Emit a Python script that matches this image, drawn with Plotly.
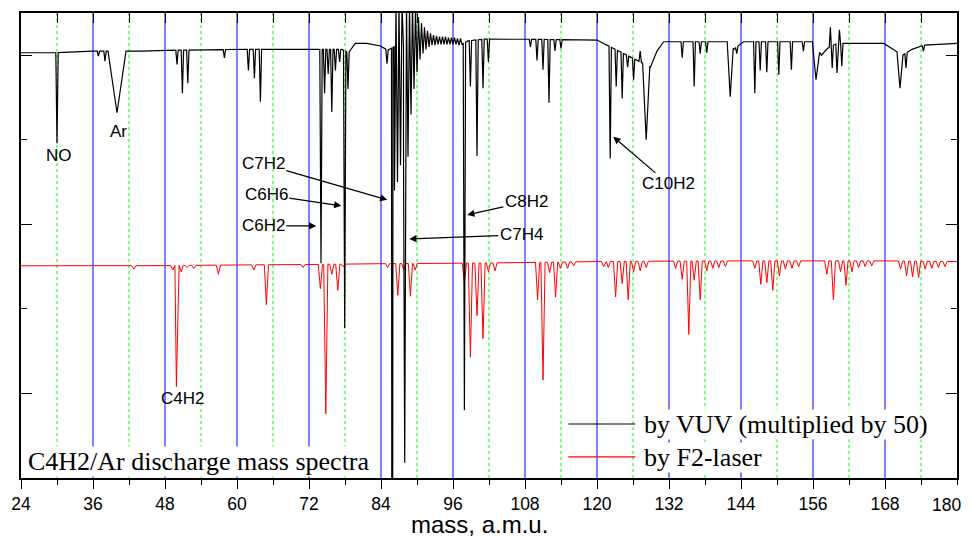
import numpy as np
import plotly.graph_objects as go

# ---- VUV spectrum (multiplied by 50), black trace ----
vuv_base_mass = [24, 30, 36, 44, 50, 60, 72, 77.5, 78.6, 79.7, 81.6, 83.9, 85.1, 86.2,
                 97.5, 98.5, 101, 108, 120, 128.9, 130, 131.1, 142, 142.8, 144.4, 156,
                 157.4, 158.4, 160, 167.8, 170.9, 172.5, 174.5, 180]
vuv_base_value = [5.03, 5.03, 5.05, 5.05, 5.06, 5.07, 5.07, 5.07, 5.03, 5.14, 5.14, 5.11, 5.06, 5.1,
                  5.13, 5.17, 5.19, 5.19, 5.18, 4.86, 5.05, 5.16, 5.16, 5.07, 5.16, 5.16,
                  5.0, 5.08, 5.14, 5.14, 5.0, 5.07, 5.12, 5.14]

vuv_peak_mass = [30.0, 36.9, 38.0, 50.0, 50.9, 51.8, 57.9, 61.9, 62.9, 63.9,
                 74.0, 74.6, 75.2, 75.8, 76.4, 77.1, 77.95, 78.5, 85.0, 85.8, 85.95, 87.95,
                 97.9, 98.9, 100.0, 101.0, 101.9, 108.9, 110.0, 111.0, 112.0, 113.0, 114.0,
                 122.2, 123.2, 124.2, 125.1, 126.1, 127.2, 134.2, 136.2, 137.2, 138.3, 143.3,
                 146.3, 147.2, 148.3, 150.3, 152.4, 154.4, 158.9, 159.2, 160.0, 160.4, 160.8,
                 171.5, 174.4]
vuv_peak_value = [3.96, 4.99, 4.93, 4.89, 4.55, 4.67, 4.97, 4.82, 4.73, 4.45,
                  2.54, 4.55, 4.78, 4.33, 4.82, 4.92, 1.77, 4.6, 4.9, -0.3, -0.3, 0.18,
                  0.80, 4.63, 3.81, 4.61, 4.92, 5.1, 4.94, 4.83, 4.44, 5.05, 5.08,
                  3.78, 4.63, 4.49, 4.86, 4.71, 5.05, 4.97, 4.63, 5.02, 5.03, 5.02,
                  4.55, 4.82, 4.8, 4.77, 4.83, 5.05, 5.33, 4.85, 4.79, 5.3, 4.87,
                  4.85, 5.05]

vuv_broad_mass = [40.0, 128.2, 142.2, 156.5, 170.5]
vuv_broad_value = [4.32, 4.0, 4.51, 4.71, 4.61]
vuv_broad_width = [1.5, 0.6, 0.5, 0.6, 0.5]

# ringing after the big C7H2 / C7H4 lines
vuv_ring_mass = [86.25, 86.5, 86.75, 87.0, 87.25, 87.5, 87.75,
                 88.25, 88.5, 88.75, 89.0, 89.25, 89.5, 89.75, 90.0, 90.25, 90.5, 90.75,
                 91.0, 91.25, 91.5, 91.75, 92.0, 92.25, 92.5, 92.75, 93.0, 93.25, 93.5,
                 93.75, 94.0, 94.25, 94.5, 94.75, 95.0, 95.25, 95.5, 95.75, 96.0, 96.25,
                 96.5, 96.75, 97.0, 97.25]
vuv_ring_value = [3.4, 5.6, 3.5, 5.6, 3.7, 5.6, 3.9,
                  5.6, 3.8, 5.6, 4.3, 5.6, 4.6, 5.55, 4.8, 5.45, 4.95, 5.38,
                  5.02, 5.33, 5.07, 5.29, 5.1, 5.26, 5.12, 5.24, 5.12, 5.23, 5.13,
                  5.22, 5.13, 5.22, 5.13, 5.22, 5.13, 5.21, 5.13, 5.21, 5.13, 5.21,
                  5.13, 5.2, 5.12, 5.2]

# ---- F2-laser spectrum, red trace ----
f2_base_mass = [24, 48, 60, 72, 84, 96, 108, 120, 132, 144, 156, 168, 180]
f2_base_value = [2.51, 2.512, 2.52, 2.525, 2.535, 2.54, 2.548, 2.56, 2.565, 2.568, 2.568, 2.568, 2.56]

f2_peak_mass = [42.8, 49.3, 49.9, 50.7, 51.7, 52.8, 56.9, 62.8, 64.9, 71.0,
                73.9, 74.8, 75.8, 76.8, 77.7, 85.1, 86.8, 87.8, 88.9, 89.7,
                97.9, 98.9, 100.0, 101.0, 101.9, 103.0, 110.1, 111.0, 112.1, 113.1,
                113.9, 115.1, 116.1, 121.1, 121.9, 123.1, 124.2, 125.2, 126.1, 127.2,
                128.2, 133.1, 134.2, 135.3, 136.2, 137.2, 138.3, 139.3, 140.3, 141.4,
                146.3, 147.3, 148.3, 149.3, 150.4, 151.4, 152.5, 153.6, 158.3, 159.4,
                160.6, 161.5, 162.5, 163.6, 164.7, 165.8, 170.6, 171.6, 172.6, 173.6,
                174.7, 175.8, 176.9, 178.0]
f2_peak_value = [2.47, 2.46, 1.08, 2.44, 2.49, 2.48, 2.41, 2.46, 2.05, 2.49,
                 2.24, 0.76, 2.41, 2.22, 2.5, 2.49, 2.16, 2.46, 2.15, 2.46,
                 2.32, 1.43, 1.92, 1.65, 2.44, 2.45, 2.11, 1.16, 2.43, 2.14,
                 2.48, 2.48, 2.51, 2.5, 2.49, 2.14, 2.30, 2.11, 2.44, 2.45,
                 2.49, 2.48, 2.35, 1.70, 2.34, 2.11, 2.45, 2.48, 2.49, 2.5,
                 2.48, 2.29, 2.31, 2.22, 2.39, 2.47, 2.48, 2.5, 2.41, 2.11,
                 2.44, 2.28, 2.44, 2.49, 2.5, 2.51, 2.47, 2.39, 2.38, 2.37,
                 2.47, 2.48, 2.49, 2.5]

# ---- labels ----
x_tick_mass = [24, 36, 48, 60, 72, 84, 96, 108, 120, 132, 144, 156, 168, 180]

label_text = ["NO", "Ar", "C4H2"]
label_mass = [30.38, 40.22, 50.88]
label_value = [3.82, 4.095, 0.935]

arrow_text = ["C7H2", "C6H6", "C6H2", "C8H2", "C7H4", "C10H2"]
arrow_text_mass = [64.38, 64.88, 64.38, 108.22, 107.38, 131.88]
arrow_text_value = [3.716, 3.349, 2.982, 3.266, 2.876, 3.479]
arrow_head_mass = [85.05, 77.38, 73.22, 98.38, 88.72, 122.72]
arrow_head_value = [3.29, 3.219, 2.982, 3.112, 2.828, 4.036]

legend_text = ["by VUV (multiplied by 50)", "by F2-laser"]
legend_color = ["black", "#ff0000"]


def spectrum(base_m, base_v, peak_m, peak_v, peak_w, extra_m=(), extra_v=()):
    spans = [(m - w, m + w) for m, w in zip(peak_m, peak_w)]
    if len(extra_m):
        spans.append((extra_m[0], extra_m[-1]))
    pts = [(m, v) for m, v in zip(base_m, base_v)
           if not any(a < m < b for a, b in spans)]
    for m, v, w in zip(peak_m, peak_v, peak_w):
        for s in (m - w, m + w):
            pts.append((s, float(np.interp(s, base_m, base_v))))
        pts.append((m, v))
    pts += list(zip(extra_m, extra_v))
    pts.sort(key=lambda p: p[0])
    return [p[0] for p in pts], [p[1] for p in pts]


vx, vy = spectrum(vuv_base_mass, vuv_base_value,
                  vuv_peak_mass + vuv_broad_mass, vuv_peak_value + vuv_broad_value,
                  [0.2] * len(vuv_peak_mass) + vuv_broad_width,
                  vuv_ring_mass, vuv_ring_value)
fx, fy = spectrum(f2_base_mass, f2_base_value, f2_peak_mass, f2_peak_value,
                  [0.35] * len(f2_peak_mass))

fig = go.Figure()

# grid: blue solid every 12, green dotted in between
for m in range(36, 180, 12):
    fig.add_shape(type="line", x0=m, x1=m, y0=0, y1=1, xref="x", yref="paper", layer="below",
                  line=dict(color="#0000ff", width=1))
for m in range(30, 180, 12):
    fig.add_shape(type="line", x0=m, x1=m, y0=0, y1=1, xref="x", yref="paper", layer="below",
                  line=dict(color="#00ff00", width=1, dash="dot"))

fig.add_trace(go.Scatter(x=fx, y=fy, mode="lines", line=dict(color="#ff0000", width=1),
                         showlegend=False, hoverinfo="skip"))
fig.add_trace(go.Scatter(x=vx, y=vy, mode="lines", line=dict(color="black", width=1.2),
                         showlegend=False, hoverinfo="skip"))
# dummy trace so the top axis is drawn
fig.add_trace(go.Scatter(x=[24, 180], y=[None, None], xaxis="x2", showlegend=False,
                         hoverinfo="skip"))

sans = "Liberation Sans, Arial, sans-serif"
serif = "Liberation Serif, Times New Roman, serif"

for t, m, v in zip(label_text, label_mass, label_value):
    fig.add_annotation(x=m, y=v, text=t, showarrow=False, font=dict(family=sans, size=17, color="black"))

for t, tm, tv, hm, hv in zip(arrow_text, arrow_text_mass, arrow_text_value,
                             arrow_head_mass, arrow_head_value):
    fig.add_annotation(x=hm, y=hv, ax=tm, ay=tv, axref="x", ayref="y", text=t,
                       showarrow=True, arrowhead=2, arrowsize=1.1, arrowwidth=1.3,
                       arrowcolor="black", font=dict(family=sans, size=17, color="black"))

fig.add_annotation(x=25.0, y=0.2, text="C4H2/Ar discharge mass spectra", showarrow=False,
                   xanchor="left", yanchor="middle", bgcolor="white", borderpad=0,
                   font=dict(family=serif, size=26, color="black"))

# hand-made legend
for t, c, tv, lv in zip(legend_text, legend_color, [0.627, 0.243], [0.639, 0.249]):
    fig.add_shape(type="line", x0=115.22, x1=126.38, y0=lv, y1=lv, xref="x", yref="y",
                  line=dict(color=c, width=1.2))
    fig.add_annotation(x=127.7, y=tv, text=t, showarrow=False, xanchor="left", yanchor="middle",
                       bgcolor="white", borderpad=0, font=dict(family=serif, size=26, color="black"))

# last tick label sits at the very edge of the page: place it right-aligned so it stays visible
fig.add_annotation(x=x_tick_mass[-1], y=-0.058, xref="x", yref="paper", text=str(x_tick_mass[-1]),
                   showarrow=False, xanchor="right", yanchor="middle", xshift=6,
                   font=dict(family=sans, size=17.5, color="black"))

fig.add_annotation(x=0.49, y=-0.1, xref="paper", yref="paper", text="mass, a.m.u.",
                   showarrow=False, yanchor="middle", font=dict(family=sans, size=24, color="black"))

# the page body adds 8px around the figure, so the figure is 8px smaller
fig.update_layout(
    width=964, height=531,
    margin=dict(l=13, r=15, t=5, b=61),
    paper_bgcolor="white", plot_bgcolor="white",
    xaxis=dict(range=[24, 180], tickmode="array", tickvals=x_tick_mass[:-1],
               ticktext=[str(v) for v in x_tick_mass[:-1]],
               ticks="outside", ticklen=9, tickwidth=1.2,
               tickcolor="black", showline=True, linecolor="black", linewidth=1.5, mirror=True,
               showgrid=False, zeroline=False, automargin=False,
               tickfont=dict(family=sans, size=17.5, color="black"),
               minor=dict(dtick=6, tick0=24, ticks="outside", ticklen=5, tickcolor="black",
                          showgrid=False)),
    xaxis2=dict(range=[24, 180], overlaying="x", side="top", tick0=24, dtick=6, ticks="inside",
                ticklen=10, tickwidth=1.2, tickcolor="black", showticklabels=False,
                showgrid=False, zeroline=False, showline=False),
    yaxis=dict(range=[0, 5.5], tick0=1, dtick=2, ticks="inside", ticklen=11, tickwidth=1.2,
               tickcolor="black", showticklabels=False, showgrid=False, zeroline=False,
               showline=True, linecolor="black", linewidth=1.5, mirror="ticks", automargin=False,
               minor=dict(dtick=1, ticks="inside", ticklen=6, tickcolor="black")),
)

fig.write_html("out.html")
